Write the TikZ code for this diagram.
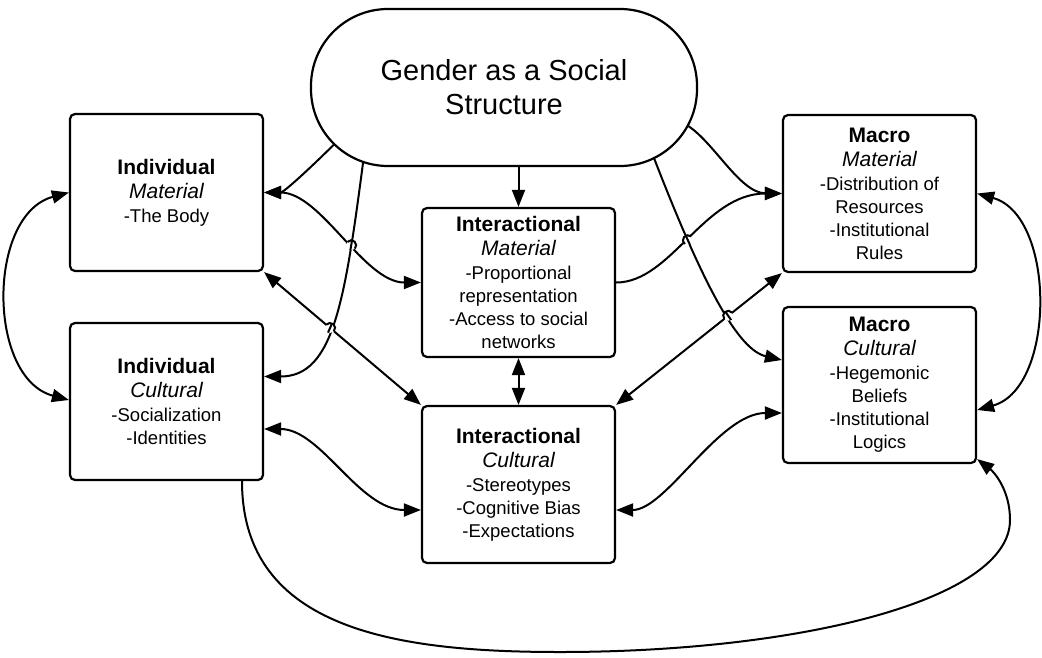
\documentclass[tikz,border=0pt]{standalone}
\usepackage{fontspec}
\setmainfont{Liberation Sans}
\usetikzlibrary{arrows.meta,calc,intersections}
\pgfdeclarelayer{bg}
\pgfsetlayers{bg,main}
\newcommand\boxhead[1]{{\fontsize{21}{25}\selectfont\bfseries #1}}
\newcommand\boxsub[1]{{\fontsize{21}{25}\selectfont\itshape #1}}
\tikzset{
  box/.style={draw, line width=2.2pt, rounded corners=5pt, fill=white,
    minimum width=193pt, minimum height=157pt, inner sep=0pt, align=center,
    font=\fontsize{18.5}{23}\selectfont},
  titlebox/.style={draw, line width=2.2pt, rounded corners=77pt, fill=white,
    minimum width=386pt, minimum height=157pt, inner sep=0pt, align=center,
    font=\fontsize{29}{34}\selectfont},
  conn/.style={line width=2pt},
  >={Triangle[length=17pt,width=13pt]}
}
\begin{document}
\begin{tikzpicture}[x=1pt,y=-1pt]
\useasboundingbox (0,0) rectangle (1042,657);

\node[titlebox] (title) at (504,87.5) {Gender as a Social\\Structure};
\node[box] (imat) at (166.5,192.5) {\boxhead{Individual}\\[1pt]\boxsub{Material}\\[1pt]-The Body};
\node[box] (icul) at (166.5,401.5) {\boxhead{Individual}\\[1pt]\boxsub{Cultural}\\[1pt]-Socialization\\-Identities};
\node[box, minimum height=149pt] (nmat) at (518.5,282.5) {\boxhead{Interactional}\\[1pt]\boxsub{Material}\\[1pt]-Proportional\\representation\\-Access to social\\networks};
\node[box] (ncul) at (518.5,484.5) {\boxhead{Interactional}\\[1pt]\boxsub{Cultural}\\[1pt]-Stereotypes\\-Cognitive Bias\\-Expectations};
\node[box] (mmat) at (879.5,193.5) {\boxhead{Macro}\\[1pt]\boxsub{Material}\\[1pt]-Distribution of\\Resources\\-Institutional\\Rules};
\node[box, minimum height=156pt] (mcul) at (879.5,385) {\boxhead{Macro}\\[1pt]\boxsub{Cultural}\\[1pt]-Hegemonic\\Beliefs\\-Institutional\\Logics};

\begin{pgfonlayer}{bg}
\fill[white] (0,0) rectangle (1042,657);
% title -> individual material
\draw[conn,->] ($(title.center)+(-168,55)$) .. controls +(-20,20) and +(20,0) .. (imat.east);
% title -> individual cultural
\draw[conn,->,name path=pa] ($(title.center)+(-140,68)$) .. controls +(-19,144.5) and +(70,0) .. ($(icul.east)+(0,-25)$);
% title -> interactional material
\draw[conn,->] ($(title.center)+(14.5,60)$) -- (nmat.north);
% title -> macro material
\draw[conn,->] ($(title.center)+(180,36)$) .. controls +(28,14.5) and +(-43,-0.5) .. (mmat.west);
% title -> macro cultural
\draw[conn,->,name path=pd] ($(title.center)+(149,68)$) .. controls +(52,134.5) and +(-43,-10) .. ($(mcul.west)+(0,-25)$);
% individual material <-> interactional material
\draw[conn,<->,name path=pb] (imat.east) .. controls +(57,0) and +(-57,0) .. (nmat.west);
% individual material <-> interactional cultural
\draw[conn,<->,name path=pc] (imat.south east) -- (ncul.north west);
% individual material <-> individual cultural
\draw[conn,<->] (imat.west) .. controls +(-82,22) and +(-82,-22) .. ($(icul.west)+(0,-1.5)$);
% individual cultural <-> interactional cultural
\draw[conn,<->] ($(icul.east)+(0,27.5)$) .. controls +(57,0) and +(-62,0) .. ($(ncul.west)+(0,25.5)$);
% individual cultural -> macro cultural (bottom loop)
\draw[conn,->] ($(icul.south)+(75.5,0)$) .. controls +(0,150) and +(-160,0) .. (560,652)
  .. controls +(240,0) and +(0,80) .. (1010,520)
  .. controls +(0,-30) and +(17,13) .. ($(mcul.south east)+(0,-5)$);
% interactional material <-> interactional cultural
\draw[conn,<->] (nmat.south) -- (ncul.north);
% interactional material -> macro material
\draw[conn,->,name path=pe] (nmat.east) .. controls +(55,0) and +(-78,0) .. (mmat.west);
% interactional cultural <-> macro material
\draw[conn,<->,name path=pf] (ncul.north east) -- (mmat.south west);
% interactional cultural <-> macro cultural
\draw[conn,<->] ($(ncul.east)+(0,25.5)$) .. controls +(50,0) and +(-63,0) .. ($(mcul.west)+(0,28)$);
% macro material <-> macro cultural
\draw[conn,<->] (mmat.east) .. controls +(79,22) and +(79,-22) .. ($(mcul.east)+(0,25)$);

% line hops
\path[name intersections={of=pa and pb,by=h1}];
\path[name intersections={of=pa and pc,by=h2}];
\path[name intersections={of=pd and pe,by=h3}];
\path[name intersections={of=pd and pf,by=h4}];
\fill[white] (h1) circle (5pt);
\fill[white] (h2) circle (5pt);
\fill[white] (h3) circle (5pt);
\fill[white] (h4) circle (5pt);
\begin{scope}
  \clip (h1) circle (5.5pt) (h2) circle (5.5pt);
  \draw[conn] ($(title.center)+(-140,68)$) .. controls +(-19,144.5) and +(70,0) .. ($(icul.east)+(0,-25)$);
\end{scope}
\begin{scope}
  \clip (h3) circle (5.5pt) (h4) circle (5.5pt);
  \draw[conn] ($(title.center)+(149,68)$) .. controls +(52,134.5) and +(-43,-10) .. ($(mcul.west)+(0,-25)$);
\end{scope}
\draw[conn] ($(h1)+(137:5pt)$) arc[start angle=137,end angle=-43,radius=5pt];
\draw[conn] ($(h2)+(139.7:5pt)$) arc[start angle=139.7,end angle=-40.3,radius=5pt];
\draw[conn] ($(h3)+(231.5:5pt)$) arc[start angle=231.5,end angle=51.5,radius=5pt];
\draw[conn] ($(h4)+(218.6:5pt)$) arc[start angle=218.6,end angle=38.6,radius=5pt];
\end{pgfonlayer}
\end{tikzpicture}
\end{document}
